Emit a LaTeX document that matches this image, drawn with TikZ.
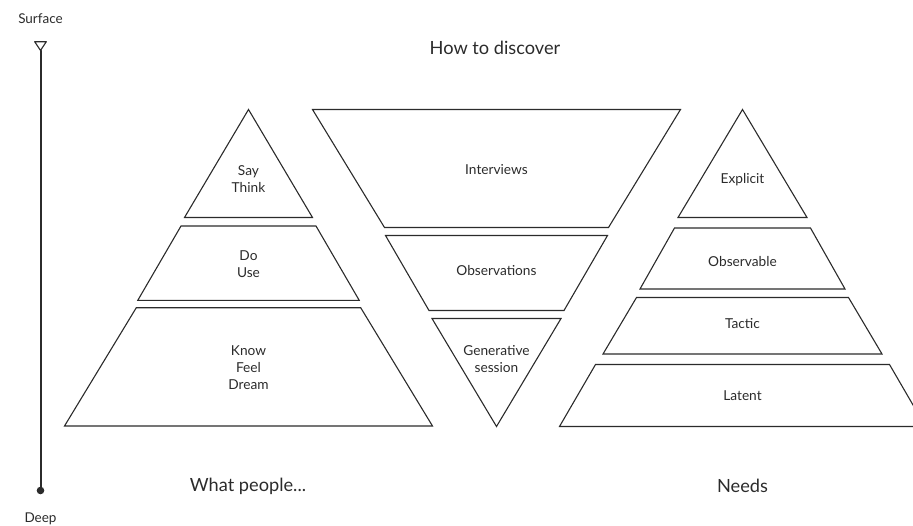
\documentclass[tikz,border=0pt]{standalone}
\usepackage{fontspec}
\setmainfont{Lato}
\usepackage{tikz}
\usetikzlibrary{positioning}
\usepackage{tkz-euclide}
\definecolor{ink}{HTML}{2B2B2B}

\begin{document}
\begin{tikzpicture}[x=1pt,y=-1pt,
	lbl/.style={font=\fontsize{13.7}{17}\selectfont,text=ink,align=center,inner sep=0pt},
	head/.style={font=\fontsize{18.2}{20}\selectfont,text=ink,inner sep=0pt},
	tiny/.style={font=\fontsize{13.5}{14}\selectfont,text=ink,inner sep=0pt},
	layer/.style={draw=ink,line width=1.1pt,line join=miter}]
	\useasboundingbox (0,0) rectangle (913,525);
	\tkzDefPoint(34.7,41.7){s1}
	\tkzDefPoint(46.3,41.7){s2}
	\tkzDefPoint(40.5,50.5){s3}
	\tkzDefPoint(40.5,490.5){s4}
	\tkzDrawPolygon[draw=ink,line width=1.1pt](s1,s2,s3)
	\tkzDrawSegment[draw=ink,line width=2pt](s3,s4)
	\fill[ink] (s4) circle (3.8);
	\node[tiny] (surface) at (40.5,19) {Surface};
	\node[tiny] (deep) at (40.5,519) {Deep};
	\tkzDefPoint(248.5,109.5){a1}
	\tkzDefPoint(184.5,217.5){a2}
	\tkzDefPoint(312.5,217.5){a3}
	\tkzDefPoint(181,226){b1}
	\tkzDefPoint(316,226){b2}
	\tkzDefPoint(359.2,300.3){b3}
	\tkzDefPoint(137.8,300.3){b4}
	\tkzDefPoint(136.3,307.7){c1}
	\tkzDefPoint(360.7,307.7){c2}
	\tkzDefPoint(432.5,426){c3}
	\tkzDefPoint(64.5,426){c4}
	\tkzDrawPolygon[layer](a1,a2,a3)
	\tkzDrawPolygon[layer](b1,b2,b3,b4)
	\tkzDrawPolygon[layer](c1,c2,c3,c4)
	\tkzDefPoint(312.5,109.5){d1}
	\tkzDefPoint(680.5,109.5){d2}
	\tkzDefPoint(608.5,227.5){d3}
	\tkzDefPoint(384.5,227.5){d4}
	\tkzDefPoint(385.5,235.5){e1}
	\tkzDefPoint(607.5,235.5){e2}
	\tkzDefPoint(564,310.5){e3}
	\tkzDefPoint(429,310.5){e4}
	\tkzDefPoint(432,318.5){f1}
	\tkzDefPoint(561,318.5){f2}
	\tkzDefPoint(496.5,426.5){f3}
	\tkzDrawPolygon[layer](d1,d2,d3,d4)
	\tkzDrawPolygon[layer](e1,e2,e3,e4)
	\tkzDrawPolygon[layer](f1,f2,f3)
	\tkzDefPoint(742.5,109.5){g1}
	\tkzDefPoint(678,217.5){g2}
	\tkzDefPoint(807,217.5){g3}
	\tkzDefPoint(674.5,228){h1}
	\tkzDefPoint(810.5,228){h2}
	\tkzDefPoint(845,289){h3}
	\tkzDefPoint(640,289){h4}
	\tkzDefPoint(636.5,297.5){i1}
	\tkzDefPoint(848.5,297.5){i2}
	\tkzDefPoint(882,354){i3}
	\tkzDefPoint(603,354){i4}
	\tkzDefPoint(595.5,364.5){j1}
	\tkzDefPoint(889.5,364.5){j2}
	\tkzDefPoint(925.5,426.5){j3}
	\tkzDefPoint(559.5,426.5){j4}
	\tkzDrawPolygon[layer](g1,g2,g3)
	\tkzDrawPolygon[layer](h1,h2,h3,h4)
	\tkzDrawPolygon[layer](i1,i2,i3,i4)
	\tkzDrawPolygon[layer](j1,j2,j3,j4)
	\node[lbl] (say) at (248.5,179.5) {Say\\Think};
	\node[lbl] (do) at (248.5,264.5) {Do\\Use};
	\node[lbl] (know) at (248.5,368) {Know\\Feel\\Dream};
	\node[lbl] (interviews) at (496.5,170) {Interviews};
	\node[lbl] (observations) at (496.5,271) {Observations};
	\node[lbl] (generative) at (496.5,359.5) {Generative\\session};
	\node[lbl] (explicit) at (742.5,180) {Explicit};
	\node[lbl] (observable) at (742.5,262) {Observable};
	\node[lbl] (tactic) at (742.5,323.5) {Tactic};
	\node[lbl] (latent) at (742.5,396) {Latent};
	\node[head] (discover) at (495,48) {How to discover};
	\node[head] (people) at (248,486) {What people...};
	\node[head] (needs) at (742.5,486) {Needs};
\end{tikzpicture}
\end{document}
